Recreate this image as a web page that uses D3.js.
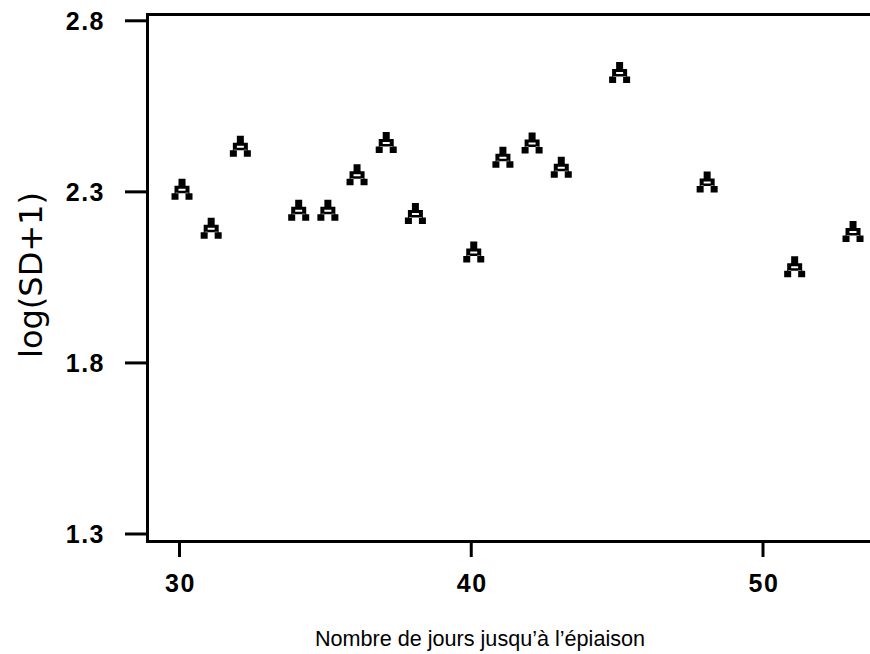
<!DOCTYPE html>
<html>
<head>
<meta charset="utf-8">
<script src="https://cdn.jsdelivr.net/npm/d3@7"></script>
<style>
  html, body { margin: 0; padding: 0; background: #fff; }
  svg { display: block; }
  .tick-label { font-family: "Liberation Sans", Arial, sans-serif; font-size: 25px; font-weight: bold; letter-spacing: 1.5px; fill: #000; }
  .y-title { font-family: "DejaVu Sans", sans-serif; font-size: 32px; fill: #000; }
  .x-title { font-family: "Liberation Sans", Arial, sans-serif; font-size: 21.6px; fill: #000; }
</style>
</head>
<body>
<svg id="chart" width="870" height="654"></svg>
<script>
// days until heading vs log(SD+1)
const days = [30, 31, 32, 34, 35, 36, 37, 38, 40, 41, 42, 43, 45, 48, 51, 53];
const logSD = [2.308, 2.194, 2.433, 2.246, 2.246, 2.350, 2.444, 2.237, 2.124, 2.401, 2.443, 2.372, 2.649, 2.329, 2.081, 2.184];
const xTicks = [30, 40, 50];
const yTicks = [1.3, 1.8, 2.3, 2.8];
const yTickLabels = ['1.3', '1.8', '2.3', '2.8'];
const xTitle = 'Nombre de jours jusqu\u2019\u00e0 l\u2019\u00e9piaison';
const yTitle = 'log(SD+1)';

const W = 870, H = 654;
const svg = d3.select('#chart');

const x = d3.scaleLinear().domain([30, 50]).range([179.5, 763]);
const y = d3.scaleLinear().domain([1.3, 2.8]).range([534, 20.8]);

// frame edges sit a bit outside the tick range
const frameL = 147.5, frameT = 14.5, frameB = 541.5;

svg.append('path')
    .attr('d', `M${W},${frameT}H${frameL}V${frameB}H${W}`)
    .attr('fill', 'none')
    .attr('stroke', '#000')
    .attr('stroke-width', 3);

// y ticks
const yt = svg.append('g').attr('class', 'y-ticks');
yt.selectAll('line').data(yTicks).join('line')
    .attr('x1', 125).attr('x2', frameL)
    .attr('y1', d => y(d)).attr('y2', d => y(d))
    .attr('stroke', '#000').attr('stroke-width', 3);
yt.selectAll('text').data(yTicks).join('text')
    .attr('class', 'tick-label')
    .attr('x', 105)
    .attr('y', d => y(d) + 9)
    .attr('text-anchor', 'end')
    .text((d, i) => yTickLabels[i]);

// x ticks
const xt = svg.append('g').attr('class', 'x-ticks');
xt.selectAll('line').data(xTicks).join('line')
    .attr('x1', d => x(d)).attr('x2', d => x(d))
    .attr('y1', frameB).attr('y2', 557)
    .attr('stroke', '#000').attr('stroke-width', 3);
xt.selectAll('text').data(xTicks).join('text')
    .attr('class', 'tick-label')
    .attr('x', d => x(d) + 1)
    .attr('y', 592)
    .attr('text-anchor', 'middle')
    .text(d => d);

// pixel "A" plotting symbol, 21x21, centred on the point
const glyph = 'M-3.5,-10.5h7v7h-7z' +
    'M-7.5,-3.5h15v7.5h-15z M-3.5,-0.5h7v2h-7z' +
    'M-10.5,4h4v-0.5h3v7h-7z' +
    'M10.5,4h-4v-0.5h-3v7h7z';

const pts = days.map((d, i) => ({ day: d, v: logSD[i] }));
svg.append('g').attr('class', 'points')
    .selectAll('path').data(pts).join('path')
    .attr('transform', d => `translate(${x(d.day) + 2.5},${y(d.v)})`)
    .attr('d', glyph)
    .attr('fill', '#000')
    .attr('fill-rule', 'evenodd');

// axis titles
svg.append('text')
    .attr('class', 'x-title')
    .attr('x', 480).attr('y', 646)
    .attr('text-anchor', 'middle')
    .text(xTitle);

svg.append('text')
    .attr('class', 'y-title')
    .attr('transform', 'translate(42,275) rotate(-90)')
    .attr('text-anchor', 'middle')
    .text(yTitle);
</script>
</body>
</html>
